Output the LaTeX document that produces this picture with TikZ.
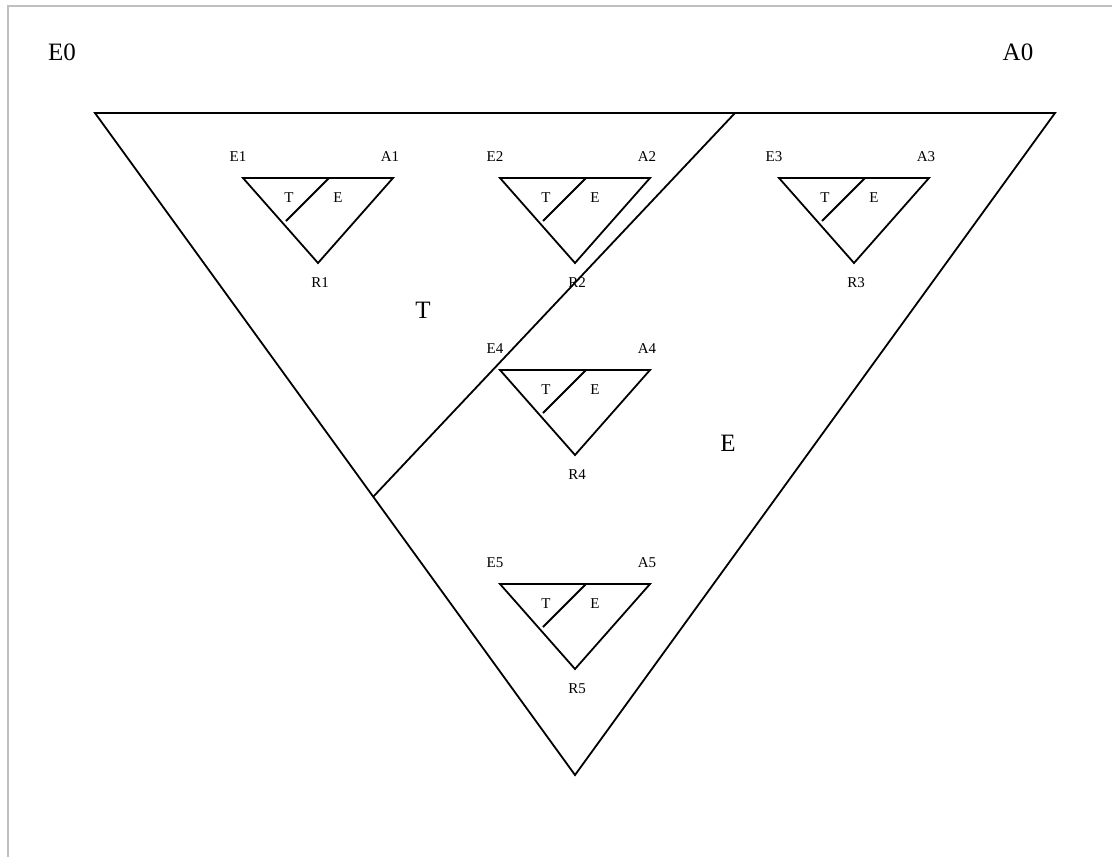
\documentclass[tikz,border=0pt]{standalone}
\usepackage{fontspec}
\setmainfont{Liberation Serif}
\usetikzlibrary{positioning}

\begin{document}
\begin{tikzpicture}[
        x=1pt, y=-1pt,
        edge/.style={line width=1.8pt, line join=miter},
        frame/.style={draw=black!25, line width=2pt},
        lbl/.style={inner sep=0pt, font=\fontsize{15}{15}\selectfont},
        biglbl/.style={inner sep=0pt, font=\fontsize{25}{25}\selectfont}
    ]
        \useasboundingbox (0,0) rectangle (1112,857);
        \draw[frame] (8,857) -- (8,6) -- (1112,6);

        % outer triangle
        \coordinate (top left) at (95,113);
        \coordinate (top right) at (1055,113);
        \coordinate (root) at (575,775);
        \coordinate (cut top) at (735,113);
        \coordinate (cut bottom) at (373,497);
        \draw[edge] (top left) -- (top right) -- (root) -- cycle;
        \draw[edge] (cut top) -- (cut bottom);

        \node[biglbl] (E0) at (62,52) {E0};
        \node[biglbl] (A0) at (1018,52) {A0};
        \node[biglbl] (T0) at (423,310) {T};
        \node[biglbl] (X0) at (728,443) {E};

        % small triangles, given by top left corner
        \foreach \i/\x/\y in {1/243/178, 2/500/178, 3/779/178, 4/500/370, 5/500/584} {
            \coordinate (l\i) at (\x,\y);
            \coordinate (r\i) at (\x+150,\y);
            \coordinate (b\i) at (\x+75,\y+85);
            \coordinate (s\i) at (\x+86,\y);
            \coordinate (t\i) at (\x+43,\y+43);
            \draw[edge] (l\i) -- (r\i) -- (b\i) -- cycle;
            \draw[edge] (s\i) -- (t\i);
            \node[lbl] (E\i) at (\x-5,\y-21) {E\i};
            \node[lbl] (A\i) at (\x+147,\y-21) {A\i};
            \node[lbl] (R\i) at (\x+77,\y+105) {R\i};
            \node[lbl] (Tl\i) at (\x+46,\y+20) {T};
            \node[lbl] (El\i) at (\x+95,\y+20) {E};
        }
    \end{tikzpicture}
\end{document}
